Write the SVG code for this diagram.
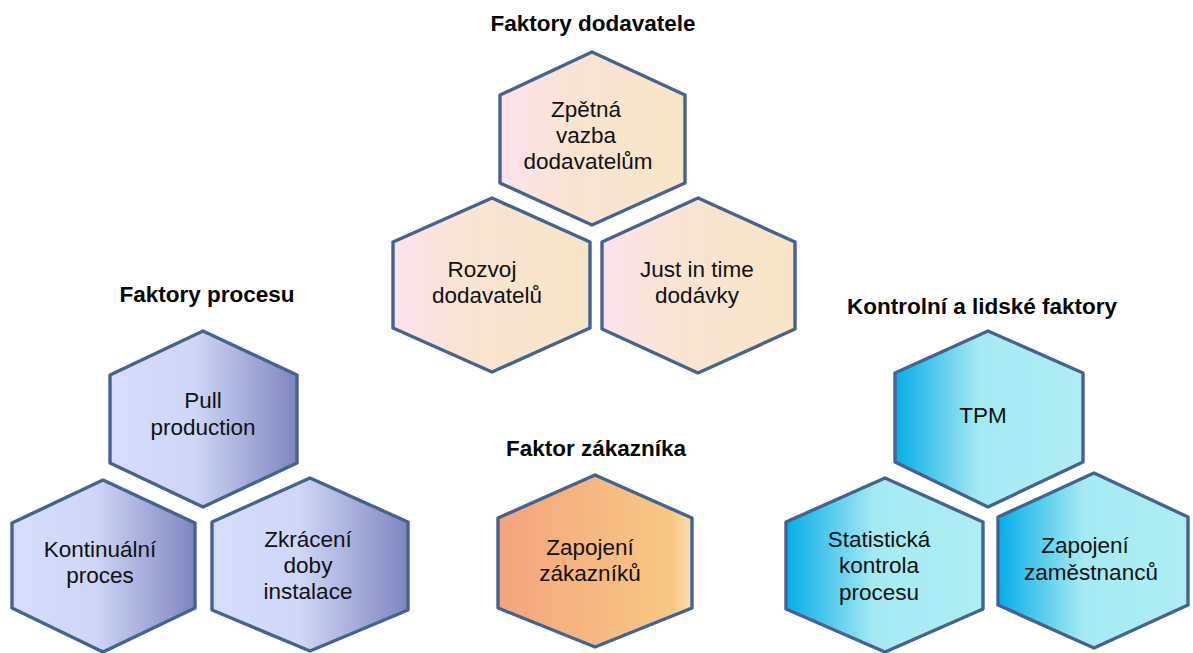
<svg xmlns="http://www.w3.org/2000/svg" width="1193" height="653" viewBox="0 0 1193 653">
  <style>
    .hex { stroke: #46638f; stroke-width: 3.4; stroke-linejoin: round; }
    .lbl { font-family: "Liberation Sans", Arial, sans-serif; font-size: 22.5px; fill: #111111; text-anchor: middle; }
    .ttl { font-family: "Liberation Sans", Arial, sans-serif; font-size: 22.5px; font-weight: bold; fill: #050505; text-anchor: middle; }
  </style>
  <defs>
    <linearGradient id="gSupplier" x1="0" y1="0" x2="1" y2="0">
      <stop offset="0" stop-color="#fce2ec"/>
      <stop offset="0.4" stop-color="#f9e4d2"/>
      <stop offset="1" stop-color="#f8e5c6"/>
    </linearGradient>
    <linearGradient id="gProcess" x1="0" y1="0" x2="1" y2="0">
      <stop offset="0" stop-color="#d5ddfc"/>
      <stop offset="0.45" stop-color="#cfd6f7"/>
      <stop offset="1" stop-color="#7e86c0"/>
    </linearGradient>
    <linearGradient id="gCustomer" x1="0" y1="0" x2="1" y2="0">
      <stop offset="0" stop-color="#f4a47d"/>
      <stop offset="0.9" stop-color="#f8c883"/>
      <stop offset="1" stop-color="#fbdcb8"/>
    </linearGradient>
    <linearGradient id="gControl" x1="0" y1="0" x2="1" y2="0">
      <stop offset="0" stop-color="#06ade8"/>
      <stop offset="0.45" stop-color="#a5eaf3"/>
      <stop offset="1" stop-color="#aeeef4"/>
    </linearGradient>
  </defs>

  <rect width="1193" height="653" fill="#ffffff"/>

  <!-- group titles -->
  <g id="titles">
    <text class="ttl" x="593" y="31">Faktory dodavatele</text>
    <text class="ttl" x="207" y="302">Faktory procesu</text>
    <text class="ttl" x="982" y="314">Kontrolní a lidské faktory</text>
    <text class="ttl" x="596" y="456">Faktor zákazníka</text>
  </g>

  <!-- supplier factors -->
  <g id="zpetna-vazba">
    <polygon class="hex" fill="url(#gSupplier)" points="592,52 685,95 685,183 592,225 500,183 500,95"/>
    <text class="lbl" x="586" y="117">Zpětná</text>
    <text class="lbl" x="586" y="143">vazba</text>
    <text class="lbl" x="588" y="169">dodavatelům</text>
  </g>
  <g id="rozvoj-dodavatelu">
    <polygon class="hex" fill="url(#gSupplier)" points="492,198 590,242 590,328 492,372 393,328 393,242"/>
    <text class="lbl" x="482" y="277">Rozvoj</text>
    <text class="lbl" x="487" y="303">dodavatelů</text>
  </g>
  <g id="just-in-time">
    <polygon class="hex" fill="url(#gSupplier)" points="698,198 795,242 795,329 698,373 602,329 602,242"/>
    <text class="lbl" x="697" y="277">Just in time</text>
    <text class="lbl" x="697" y="303">dodávky</text>
  </g>

  <!-- process factors -->
  <g id="pull-production">
    <polygon class="hex" fill="url(#gProcess)" points="203,331 297,375 297,463 203,507 110,463 110,375"/>
    <text class="lbl" x="203" y="408">Pull</text>
    <text class="lbl" x="203" y="435">production</text>
  </g>
  <g id="kontinualni-proces">
    <polygon class="hex" fill="url(#gProcess)" points="103,480 195,523 195,608 103,652 12,608 12,523"/>
    <text class="lbl" x="100" y="557">Kontinuální</text>
    <text class="lbl" x="100" y="583">proces</text>
  </g>
  <g id="zkraceni-doby">
    <polygon class="hex" fill="url(#gProcess)" points="310,478 408,522 408,610 310,651 212,610 212,522"/>
    <text class="lbl" x="308" y="547">Zkrácení</text>
    <text class="lbl" x="308" y="573">doby</text>
    <text class="lbl" x="308" y="599">instalace</text>
  </g>

  <!-- customer factor -->
  <g id="zapojeni-zakazniku">
    <polygon class="hex" fill="url(#gCustomer)" points="595,475 692,518 692,608 595,647 498,608 498,518"/>
    <text class="lbl" x="590" y="555">Zapojení</text>
    <text class="lbl" x="590" y="581">zákazníků</text>
  </g>

  <!-- control and human factors -->
  <g id="tpm">
    <polygon class="hex" fill="url(#gControl)" points="988,331 1083,373 1083,462 988,507 895,462 895,373"/>
    <text class="lbl" x="983" y="423">TPM</text>
  </g>
  <g id="statisticka-kontrola">
    <polygon class="hex" fill="url(#gControl)" points="885,478 983,522 983,609 885,652 786,609 786,522"/>
    <text class="lbl" x="879" y="547">Statistická</text>
    <text class="lbl" x="879" y="573">kontrola</text>
    <text class="lbl" x="879" y="600">procesu</text>
  </g>
  <g id="zapojeni-zamestnancu">
    <polygon class="hex" fill="url(#gControl)" points="1094,473 1188,517 1188,605 1094,648 998,605 998,517"/>
    <text class="lbl" x="1085" y="553">Zapojení</text>
    <text class="lbl" x="1091" y="580">zaměstnanců</text>
  </g>

  <!-- the hexagons touch but are not linked -->
  <g id="connectors"/>
</svg>
